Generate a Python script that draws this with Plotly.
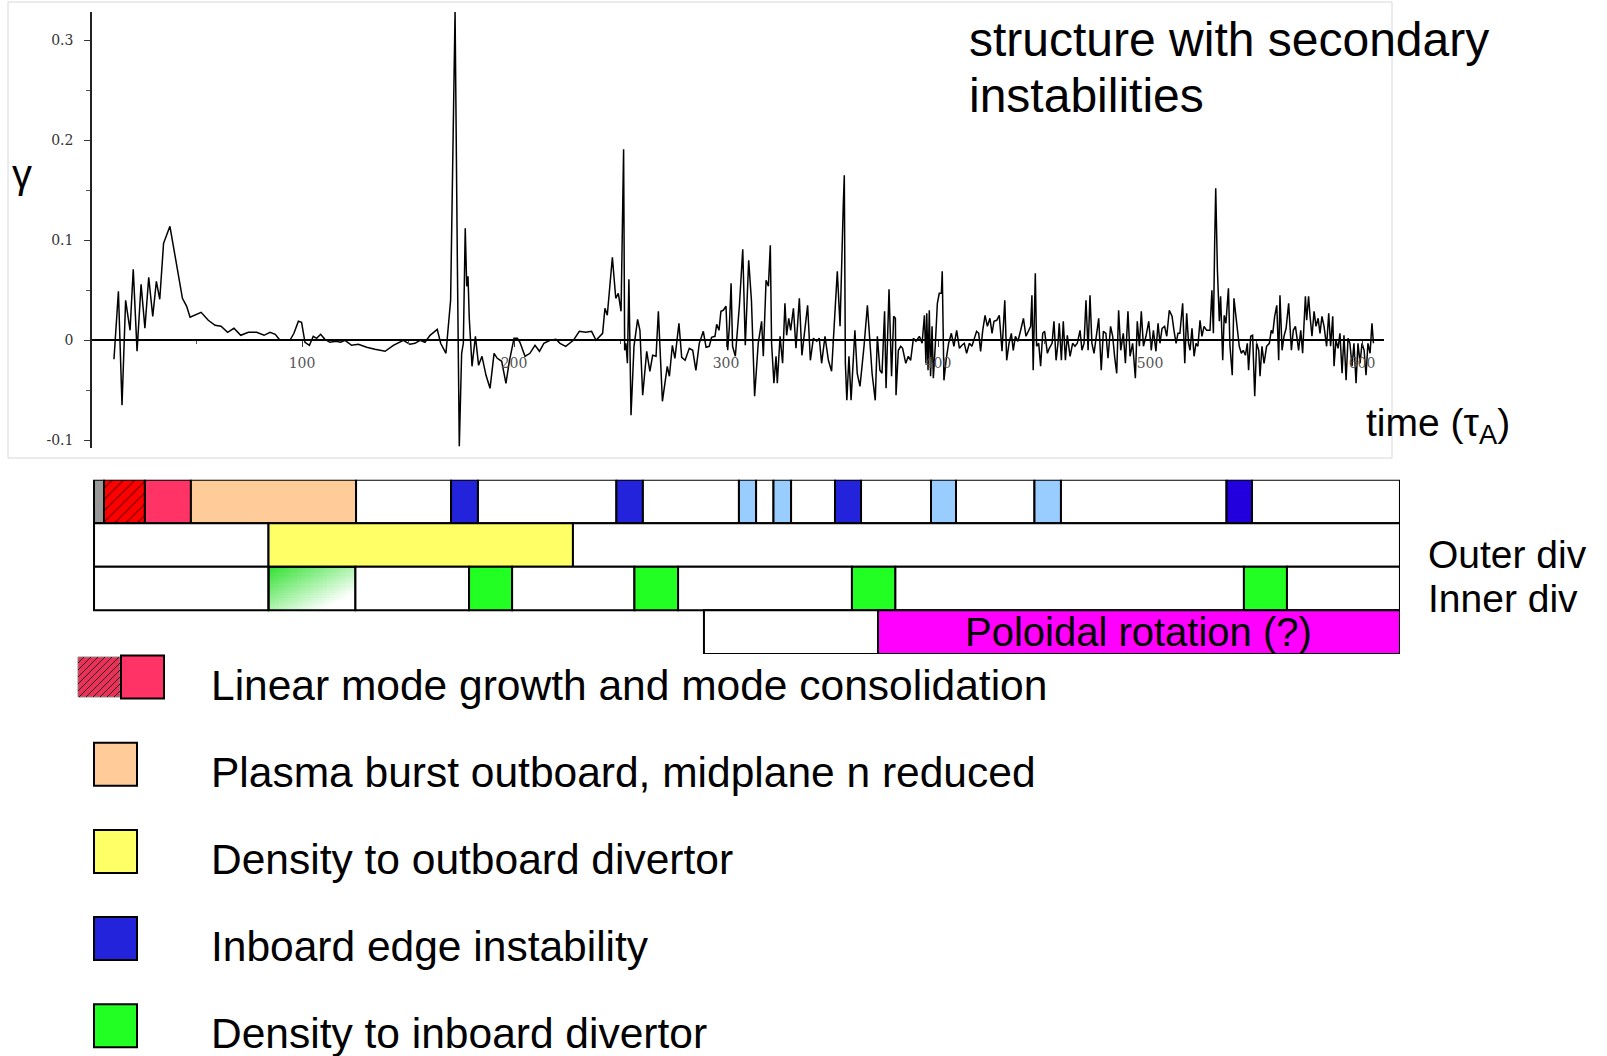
import numpy as np
import plotly.graph_objects as go

W, H = 1607, 1056

# ---------------- data: growth rate gamma vs time (tau_A) ----------------
t_linear = [11.3, 13.4, 15.1, 16.8, 18.9, 20.4, 22.2, 24.1, 25.9, 27.7, 29.6, 31.3, 32.9, 34.7, 37.7,
            41.2, 43.6, 45.6, 47.2, 52.4, 55.8, 59.0, 61.8, 64.9, 67.9, 71.1, 74.7, 78.6, 82.1, 84.9,
            87.4, 89.6, 94.3, 96.2, 98.3, 99.8, 101.4, 103.5, 105.3, 106.9, 108.8, 110.8, 113.2, 116.0,
            118.2, 120.3, 123.4, 126.6, 130.5, 134.4, 139.2, 143.1, 147.8, 150.9, 153.3]
g_linear = [-0.019, 0.049, -0.065, 0.040, 0.010, 0.071, -0.011, 0.056, 0.012, 0.063, 0.024, 0.059, 0.041,
            0.097, 0.114, 0.070, 0.042, 0.034, 0.023, 0.028, 0.020, 0.015, 0.014, 0.008, 0.012, 0.005,
            0.008, 0.008, 0.005, 0.008, 0.006, 0.000, 0.000, 0.007, 0.019, 0.018, -0.002, -0.005, 0.004,
            0.002, 0.006, 0.001, -0.002, -0.001, -0.002, 0.000, -0.005, -0.004, -0.007, -0.009, -0.011,
            -0.005, 0.000, -0.004, -0.003]

t_burst = [155.7, 158.0, 160.4, 163.8, 165.4, 167.9, 170.1, 172.2, 173.3, 174.2, 175.3, 176.1, 177.0,
           177.7, 178.3, 178.9, 180.2, 181.8, 183.3, 184.9, 186.8, 188.7, 190.6, 192.1, 194.2, 196.2,
           197.8, 200.0, 201.6, 202.8, 205.2, 207.5, 209.9, 212.0, 214.1, 217.0, 219.8, 221.7, 224.4,
           228.0, 230.8, 233.8, 236.6, 238.7, 241.8, 242.9, 244.0, 246.4, 248.0, 249.2, 250.5, 251.3,
           251.7, 252.2, 252.8, 253.5, 254.2, 255.2, 256.6, 258.3]
g_burst = [0.000, -0.002, 0.005, 0.011, -0.003, -0.013, 0.040, 0.329, 0.074, -0.106, -0.013, -0.003,
           0.112, 0.054, 0.064, 0.022, -0.026, 0.004, -0.025, -0.016, -0.035, -0.048, -0.013, -0.018,
           -0.021, -0.043, -0.021, 0.002, 0.002, -0.002, -0.016, -0.013, -0.005, -0.011, -0.003, 0.000,
           0.001, -0.003, -0.006, 0.000, 0.009, 0.008, 0.009, 0.000, 0.007, 0.032, 0.025, 0.083, 0.042,
           0.047, 0.029, 0.144, 0.191, -0.010, -0.003, -0.023, 0.061, -0.075, -0.006, 0.021]

t_mid = [259.4, 260.7, 262.6, 264.1, 265.4, 267.0, 268.1, 270.0, 272.3, 273.3, 274.7, 275.9, 277.8,
         279.1, 280.7, 282.7, 284.3, 285.8, 287.4, 289.3, 290.6, 292.1, 293.2, 294.8, 295.6, 296.7,
         297.6, 298.7, 300.0, 300.8, 301.6, 302.4, 303.1, 304.4, 306.3, 307.9, 309.1, 310.7, 312.0,
         313.5, 315.2, 316.8, 317.6, 318.9, 320.0, 320.9, 321.5, 322.6, 323.6, 324.2, 325.5, 326.7,
         327.8, 328.6, 329.6, 330.5, 331.8, 333.0, 334.6, 335.8, 337.1, 338.5, 339.8, 341.2, 342.8,
         344.0, 345.1, 346.7, 348.3, 349.8, 351.1, 352.5, 353.8, 354.7, 355.3, 355.8, 356.3, 357.0,
         358.0, 359.0, 360.1, 360.8, 361.9]
g_mid = [0.010, -0.055, -0.011, -0.031, -0.015, -0.016, 0.029, -0.061, -0.026, -0.036, -0.005, -0.018,
         0.017, -0.017, -0.020, -0.008, -0.010, -0.030, -0.003, 0.009, -0.007, -0.006, 0.003, 0.004,
         0.016, 0.010, 0.029, 0.030, 0.034, -0.010, 0.014, 0.057, -0.006, -0.016, 0.034, 0.091, -0.005,
         0.080, 0.040, -0.056, -0.003, 0.019, -0.016, 0.060, 0.054, 0.095, -0.003, -0.043, -0.016,
         -0.043, 0.004, -0.023, 0.037, 0.005, 0.022, 0.010, 0.032, -0.008, 0.042, -0.015, 0.007, 0.035,
         -0.020, 0.002, -0.001, 0.002, -0.023, 0.004, -0.020, -0.031, 0.017, 0.069, 0.014, 0.107, 0.134,
         0.165, -0.023, -0.060, -0.016, -0.060, -0.020, 0.010, -0.033]

t_late = [363.2, 365.1, 366.7, 368.9, 370.4, 371.4, 372.6, 373.6, 374.8, 375.5, 376.9, 378.1, 379.1,
          379.9, 380.2, 381.3, 382.4, 383.3, 384.8, 386.0, 387.1, 388.4, 389.6, 391.2, 392.5, 393.6,
          394.3, 394.7, 395.3, 395.9, 396.5, 397.2, 397.8, 398.7, 399.7, 400.6, 401.6, 402.0, 402.8,
          403.8, 405.0, 406.3, 407.5, 408.8, 410.1, 411.3, 412.4, 413.5, 414.8, 416.0, 417.3, 418.2,
          419.2, 420.1, 421.1, 422.2, 423.3, 424.5, 425.5, 426.4, 427.7, 428.9, 430.2, 431.5, 432.4,
          433.5, 434.6, 435.5, 436.5, 437.7, 439.0, 440.3, 441.5, 442.6, 443.7, 444.3, 444.9, 445.9,
          446.5, 447.5, 448.4, 449.4, 450.3, 451.6, 452.5, 453.8, 454.7, 455.7, 456.6, 457.2, 458.2,
          459.1, 460.1, 461.0, 462.3, 463.5, 464.6, 465.7]
g_late = [-0.046, -0.006, 0.035, -0.033, -0.060, 0.004, -0.030, -0.033, 0.029, -0.048, 0.051, -0.036,
          0.024, 0.022, -0.055, -0.010, -0.006, -0.008, -0.023, -0.016, -0.020, 0.002, -0.001, 0.004,
          -0.003, 0.025, -0.023, 0.027, -0.030, 0.030, -0.036, 0.014, -0.038, -0.006, 0.037, 0.047,
          0.047, 0.069, -0.040, -0.020, -0.003, 0.007, -0.006, 0.010, -0.008, -0.005, -0.003, -0.013,
          -0.003, -0.006, 0.002, 0.009, 0.007, -0.011, 0.010, 0.025, 0.014, 0.022, 0.007, 0.019, 0.020,
          0.025, -0.011, 0.040, -0.020, -0.003, 0.007, -0.010, 0.004, -0.001, 0.010, 0.022, 0.004,
          0.010, 0.014, 0.045, -0.030, 0.067, -0.006, -0.003, -0.026, 0.007, 0.009, -0.013, -0.008,
          -0.003, 0.019, -0.020, -0.003, 0.017, -0.020, 0.019, -0.020, 0.005, -0.016, -0.003, -0.006,
          -0.003]

t_tail = [467.0, 467.9, 468.9, 469.8, 470.8, 471.7, 472.6, 473.6, 474.8, 475.8, 477.0, 478.0, 479.2,
          480.2, 481.4, 482.4, 483.3, 484.3, 485.2, 486.2, 487.4, 488.4, 489.6, 490.6, 491.8, 493.1,
          494.0, 495.0, 495.9, 496.9, 498.1, 499.4, 500.6, 501.6, 502.8, 503.8, 504.7, 505.7, 506.9,
          507.9, 509.1, 510.4, 511.3, 512.3, 513.2, 514.1, 515.4, 516.4, 517.3, 518.2, 518.9, 519.8,
          520.8, 521.7, 522.6, 523.6, 524.5, 525.5, 526.7, 528.3, 529.2, 529.9, 530.5, 531.0, 531.8,
          532.7, 533.3, 534.3, 535.0, 535.8, 537.0, 537.7, 538.8, 539.6]
g_tail = [0.010, -0.010, -0.003, 0.040, -0.010, 0.045, -0.003, -0.013, 0.007, 0.022, -0.030, 0.009,
          0.007, -0.018, 0.014, 0.004, -0.016, -0.033, 0.030, -0.010, 0.007, -0.023, 0.029, -0.016,
          -0.003, -0.038, 0.019, -0.006, 0.029, -0.006, 0.004, 0.019, -0.010, 0.010, -0.011, 0.017,
          -0.003, 0.012, 0.014, 0.004, 0.030, 0.024, 0.010, -0.003, 0.007, 0.007, 0.037, -0.023, 0.027,
          -0.003, -0.010, 0.012, -0.016, -0.003, -0.006, 0.020, 0.004, 0.014, 0.010, 0.010, 0.050,
          0.007, 0.097, 0.152, 0.070, 0.019, 0.044, -0.020, 0.025, 0.017, 0.052, -0.005, -0.035, 0.042]

t_end = [540.9, 542.1, 543.1, 544.0, 545.0, 545.9, 546.5, 547.5, 548.4, 549.4, 550.3, 551.3, 551.9,
         552.8, 553.8, 555.0, 556.3, 557.2, 557.9, 558.8, 559.8, 560.7, 561.3, 562.3, 563.2, 564.2,
         565.4, 566.7, 567.6, 568.6, 569.5, 570.1, 571.1, 572.0, 572.6, 573.3, 573.9, 574.8, 575.5,
         576.4, 577.4, 578.3, 579.3, 580.2, 581.1, 582.1, 583.3, 584.3, 585.2, 586.2, 586.8, 587.7,
         588.7, 589.6, 590.6, 591.5, 592.5, 593.4, 594.3, 595.3, 596.2, 597.2, 598.1, 599.1, 600.0,
         601.0, 601.9, 602.8, 603.8, 604.7, 605.4]
g_end = [0.017, -0.006, -0.013, -0.010, -0.015, -0.003, -0.030, 0.004, 0.005, -0.056, -0.003, -0.010,
         -0.036, -0.006, -0.023, -0.006, -0.003, 0.010, 0.007, 0.024, 0.035, -0.020, 0.045, -0.010,
         0.004, 0.012, 0.037, -0.010, 0.010, 0.014, 0.000, -0.010, 0.010, -0.013, 0.014, 0.044, 0.020,
         0.044, 0.024, 0.004, 0.029, 0.014, 0.022, 0.007, 0.024, 0.014, -0.006, 0.027, -0.006, 0.024,
         -0.026, 0.000, -0.008, 0.007, -0.033, 0.005, -0.040, 0.002, -0.003, -0.026, -0.003, -0.043,
         -0.003, -0.023, -0.003, -0.010, -0.035, -0.003, -0.013, 0.017, -0.003]

time = t_linear + t_burst + t_mid + t_late + t_tail + t_end
gamma = g_linear + g_burst + g_mid + g_late + g_tail + g_end

x_tick_vals = [100, 200, 300, 400, 500, 600]
x_tick_text = ["100", "200", "300", "400", "500", "600"]
y_tick_vals = [-0.1, 0, 0.1, 0.2, 0.3]
y_tick_text = ["-0.1", "0", "0.1", "0.2", "0.3"]

# ---------------- data: phase timeline (time units) ----------------
row1_edges = [1.9, 6.6, 25.9, 47.6, 125.5, 170.3, 183.0, 248.3, 260.8, 306.1, 314.2, 322.4, 330.7,
              351.4, 363.7, 396.7, 408.5, 445.5, 458.0, 536.1, 548.1, 617.9]
row1_phase = ["grey", "linear_hatch", "linear", "burst", "none", "inboard", "none", "inboard", "none",
              "inboard_weak", "none", "inboard_weak", "none", "inboard", "none", "inboard_weak", "none",
              "inboard_weak", "none", "inboard2", "none"]
row2_edges = [1.9, 84.2, 227.8, 617.9]
row2_phase = ["none", "outboard_div", "none"]
row3_edges = [1.9, 84.2, 125.2, 178.8, 199.1, 256.8, 277.4, 359.4, 379.9, 544.3, 564.6, 617.9]
row3_phase = ["none", "inboard_div_grad", "none", "inboard_div", "none", "inboard_div", "none",
              "inboard_div", "none", "inboard_div", "none"]
row4_edges = [289.6, 371.7, 617.9]
row4_phase = ["none", "rotation"]
rotation_label = "Poloidal rotation (?)"

legend_labels = ["Linear mode growth and mode consolidation",
                 "Plasma burst outboard, midplane n reduced",
                 "Density to outboard divertor",
                 "Inboard edge instability",
                 "Density to inboard divertor"]
legend_phase = ["linear", "burst", "outboard_div", "inboard", "inboard_div"]

# ---------------- styles ----------------
PHASE_COLOR = {
    "grey": "#999999", "linear_hatch": "#FF0000", "linear": "#FF3366", "burst": "#FFCC99",
    "none": "#FFFFFF", "inboard": "#2323DB", "inboard2": "#2200DD", "inboard_weak": "#99CCFF",
    "outboard_div": "#FFFF66", "inboard_div": "#22FF22", "inboard_div_grad": "rgba(0,0,0,0)",
    "rotation": "#FF00FF",
}
FONT = "Liberation Sans"
SERIF = "DejaVu Serif"


def pxx(x):
    return x / W


def pyy(y):
    return 1 - y / H


# pixel geometry of the original layout
T0_PX, PX_PER_T = 90.0, 2.12
ZERO_PX, PX_PER_G = 340.3, 1000.0

fig = go.Figure()

# diagonal green-to-white gradient for the first inner-divertor cell (drawn first, below the bars)
gx = np.linspace(row3_edges[1], row3_edges[2], 41)
gy = np.linspace(1, 2, 21)
u = (np.arange(40) + 0.5) / 40          # 0 at left, 1 at right
v = (np.arange(20) + 0.5) / 20          # 0 at bottom, 1 at top
U, V = np.meshgrid(u, v)
Z = (U + (1 - V)) / 2                   # 0 top-left (green) -> 1 bottom-right (white)
fig.add_trace(go.Heatmap(x=gx, y=gy, z=Z,
                         colorscale=[[0, "#2FE02F"], [0.8, "#FFFFFF"], [1, "#FFFFFF"]],
                         zmin=0, zmax=1, showscale=False, xaxis="x2", yaxis="y2", hoverinfo="skip"))

# timeline rows
rows = [(row1_edges, row1_phase), (row2_edges, row2_phase), (row3_edges, row3_phase), (row4_edges, row4_phase)]
for r, (edges, phases) in enumerate(rows):
    yc = 3.5 - r
    for a, b, ph in zip(edges[:-1], edges[1:], phases):
        marker = dict(color=PHASE_COLOR[ph], line=dict(color="black", width=2))
        if ph == "linear_hatch":
            marker["pattern"] = dict(shape="/", fgcolor="black", size=8, solidity=0.15, fillmode="overlay")
        fig.add_trace(go.Bar(y=[yc], x=[b - a], base=[a], orientation="h", width=1, marker=marker,
                             xaxis="x2", yaxis="y2", showlegend=False, hoverinfo="skip"))

# gamma trace
fig.add_trace(go.Scatter(x=time, y=gamma, mode="lines", line=dict(color="black", width=1.5),
                         xaxis="x", yaxis="y", showlegend=False, hoverinfo="skip"))

shapes = []
annotations = []

# light frame around the plot image
shapes.append(dict(type="rect", xref="paper", yref="paper", x0=pxx(8), x1=pxx(1392), y0=pyy(458), y1=pyy(2),
                   line=dict(color="#D8D8D8", width=1), fillcolor="rgba(0,0,0,0)", layer="below"))

# legend swatches + labels
leg_y0, leg_dy = 685.0, 87.2
for i, (lab, ph) in enumerate(zip(legend_labels, legend_phase)):
    yc = leg_y0 + i * leg_dy
    annotations.append(dict(x=pxx(209), y=pyy(yc), xref="paper", yref="paper", text=lab, showarrow=False,
                            xanchor="left", yanchor="middle", font=dict(family=FONT, size=42.5, color="black")))
    sy = yc - 8
    if i == 0:
        hx0, hx1, hy0, hy1 = 78, 120, sy - 20, sy + 20
        shapes.append(dict(type="rect", xref="paper", yref="paper", x0=pxx(hx0), x1=pxx(hx1), y0=pyy(hy1),
                           y1=pyy(hy0), fillcolor="#E8325A", line=dict(color="#8A8A8A", width=1)))
        for c in np.arange(hx0 + hy0 + 6, hx1 + hy1, 7):
            xa, xb = max(hx0, c - hy1), min(hx1, c - hy0)
            if xb - xa < 1:
                continue
            shapes.append(dict(type="line", xref="paper", yref="paper", x0=pxx(xa), y0=pyy(c - xa),
                               x1=pxx(xb), y1=pyy(c - xb), line=dict(color="#3A1018", width=1)))
        shapes.append(dict(type="rect", xref="paper", yref="paper", x0=pxx(121), x1=pxx(164), y0=pyy(sy + 21.5),
                           y1=pyy(sy - 21.5), fillcolor=PHASE_COLOR[ph], line=dict(color="black", width=2)))
    else:
        shapes.append(dict(type="rect", xref="paper", yref="paper", x0=pxx(94), x1=pxx(137), y0=pyy(sy + 21.5),
                           y1=pyy(sy - 21.5), fillcolor=PHASE_COLOR[ph], line=dict(color="black", width=2)))

# texts
for txt, ty in [("structure with secondary", 40), ("instabilities", 95)]:
    annotations.append(dict(x=pxx(967), y=pyy(ty), xref="paper", yref="paper", text=txt, showarrow=False,
                            xanchor="left", yanchor="middle", font=dict(family=FONT, size=48, color="black")))
annotations += [
    dict(x=pxx(10), y=pyy(174), xref="paper", yref="paper", text="γ", showarrow=False, xanchor="left",
         yanchor="middle", font=dict(family=FONT, size=40, color="black")),
    dict(x=pxx(1364), y=pyy(425), xref="paper", yref="paper", text="time (τ<sub>A</sub>)", showarrow=False,
         xanchor="left", yanchor="middle", font=dict(family=FONT, size=39, color="black")),
    dict(x=pxx(1426), y=pyy(554), xref="paper", yref="paper", text="Outer div", showarrow=False,
         xanchor="left", yanchor="middle", font=dict(family=FONT, size=39, color="black")),
    dict(x=pxx(1426), y=pyy(598), xref="paper", yref="paper", text="Inner div", showarrow=False,
         xanchor="left", yanchor="middle", font=dict(family=FONT, size=39, color="black")),
    dict(x=(row4_edges[1] + row4_edges[2]) / 2, y=0.5, xref="x2", yref="y2", text=rotation_label,
         showarrow=False, xanchor="center", yanchor="middle", font=dict(family=FONT, size=40, color="black")),
]

x_end_px, y_top_px, y_bot_px = 1384, 12, 448
bar_end_px = 1400
fig.update_layout(
    width=W, height=H, margin=dict(l=0, r=0, t=0, b=0),
    paper_bgcolor="white", plot_bgcolor="rgba(0,0,0,0)",
    showlegend=False, barmode="overlay",
    xaxis=dict(domain=[pxx(T0_PX), pxx(x_end_px)], range=[0, (x_end_px - T0_PX) / PX_PER_T],
               anchor="free", position=pyy(ZERO_PX), showline=True, linecolor="black", linewidth=1.5,
               ticks="outside", ticklen=6, tickwidth=1, tickcolor="#333", tickvals=x_tick_vals,
               ticktext=x_tick_text, tickfont=dict(family=SERIF, size=14, color="#555"),
               minor=dict(tickvals=[50, 150, 250, 350, 450, 550], ticklen=3, tickcolor="#555", ticks="outside"),
               showgrid=False, zeroline=False, ticklabelstandoff=4),
    yaxis=dict(domain=[pyy(y_bot_px), pyy(y_top_px)],
               range=[(ZERO_PX - y_bot_px) / PX_PER_G, (ZERO_PX - y_top_px) / PX_PER_G],
               anchor="free", position=pxx(91), showline=True, linecolor="#222", linewidth=1.5,
               ticks="outside", ticklen=6, tickcolor="#333", tickvals=y_tick_vals, ticktext=y_tick_text,
               tickfont=dict(family=SERIF, size=14, color="#333"),
               minor=dict(tickvals=[-0.05, 0.05, 0.15, 0.25], ticklen=4, tickcolor="#555", ticks="outside"),
               showgrid=False, zeroline=False, ticklabelstandoff=8),
    xaxis2=dict(domain=[pxx(T0_PX), pxx(bar_end_px)], range=[0, (bar_end_px - T0_PX) / PX_PER_T],
                anchor="y2", visible=False, showgrid=False, zeroline=False),
    yaxis2=dict(domain=[pyy(653.9), pyy(479.7)], range=[0, 4], anchor="x2", visible=False,
                showgrid=False, zeroline=False),
    shapes=shapes, annotations=annotations,
)

fig.write_html("out.html")
